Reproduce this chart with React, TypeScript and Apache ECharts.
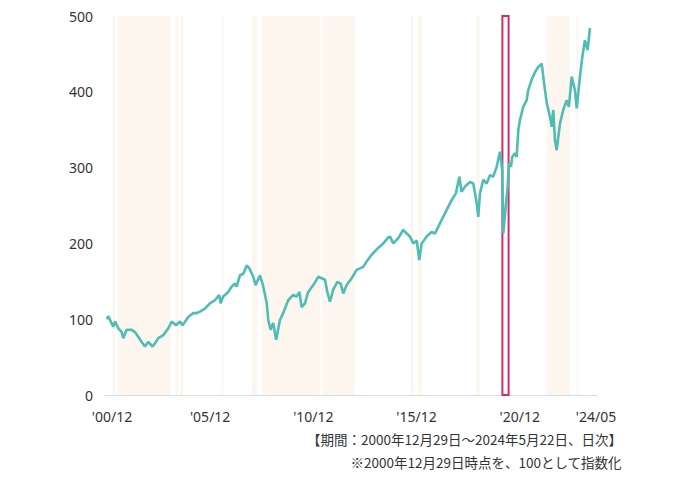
import React, { useEffect, useRef } from "react";
import * as echarts from "echarts";

const dates = [
  "2000-12-29","2001-01-20","2001-04-18","2001-05-20","2001-07-16","2001-09-15","2001-10-12","2001-12-12",
  "2002-03-09","2002-05-06","2002-07-03","2002-09-03","2002-11-01","2002-12-28","2003-03-13","2003-04-24",
  "2003-06-24","2003-09-21","2003-12-18","2004-02-18","2004-05-03","2004-07-12","2004-08-27","2004-12-06",
  "2005-03-03","2005-05-03","2005-07-01","2005-09-27","2005-12-24","2006-03-21","2006-06-06","2006-07-01",
  "2006-08-15","2006-11-15","2007-01-12","2007-03-09","2007-04-09","2007-06-09","2007-08-06","2007-10-06",
  "2007-11-21","2008-01-31","2008-03-10","2008-05-28","2008-07-25","2008-09-25","2008-10-21","2008-12-03",
  "2009-01-18","2009-03-10","2009-05-15","2009-07-12","2009-10-09","2010-01-06","2010-03-06","2010-04-25",
  "2010-06-03","2010-08-01","2010-09-28","2010-12-27","2011-03-24","2011-05-21","2011-07-21","2011-09-01",
  "2011-10-18","2011-12-15","2012-02-24","2012-04-24","2012-06-09","2012-08-09","2012-11-06","2013-02-03",
  "2013-05-28","2013-07-28","2013-10-24","2014-02-18","2014-05-18","2014-08-15","2014-09-15","2014-11-12",
  "2015-02-09","2015-05-06","2015-07-06","2015-09-03","2015-10-31","2015-12-31","2016-02-15","2016-03-27",
  "2016-06-24","2016-09-21","2016-11-18","2017-01-18","2017-03-15","2017-06-12","2017-09-09","2017-11-24",
  "2018-01-24","2018-03-03","2018-05-03","2018-07-31","2018-09-27","2018-11-27","2018-12-24","2019-01-24",
  "2019-03-21","2019-05-21","2019-07-18","2019-09-15","2019-11-15","2020-01-13","2020-02-21","2020-03-10",
  "2020-04-22","2020-05-27","2020-06-19","2020-07-24","2020-08-16","2020-10-03","2020-11-03","2020-12-03",
  "2021-01-01","2021-02-28","2021-04-28","2021-05-25","2021-07-25","2021-09-25","2021-11-21","2022-01-21",
  "2022-02-18","2022-04-18","2022-06-15","2022-07-15","2022-08-12","2022-09-12","2022-10-12","2022-12-09",
  "2023-02-06","2023-04-06","2023-05-15","2023-07-03","2023-09-01","2023-10-01","2023-11-28","2024-01-09",
  "2024-02-24","2024-04-12","2024-05-22",
];

const values = [
  100, 104, 90, 97, 88, 83, 75, 86,
  86, 83, 77, 70, 64, 70, 64, 68,
  75, 79, 88, 97, 92, 97, 92, 103,
  108, 108, 110, 114, 121, 125, 132, 121,
  130, 136, 143, 147, 143, 158, 160, 171,
  167, 156, 145, 158, 143, 121, 99, 86,
  95, 73, 99, 108, 125, 132, 130, 136,
  116, 121, 136, 145, 156, 154, 152, 136,
  123, 139, 149, 147, 134, 145, 154, 165,
  169, 176, 185, 194, 200, 208, 209, 200,
  207, 218, 213, 209, 200, 204, 178, 200,
  209, 215, 213, 222, 231, 244, 257, 266,
  288, 268, 275, 281, 279, 253, 235, 266,
  284, 279, 290, 288, 301, 321, 297, 213,
  248, 275, 306, 301, 314, 319, 314, 350,
  363, 380, 389, 402, 416, 426, 433, 437,
  420, 385, 367, 354, 376, 336, 323, 358,
  376, 389, 380, 420, 402, 378, 420, 446,
  468, 455, 484,
];

const bandStarts = [
  "2001-04-07","2001-07-13","2004-04-22","2004-07-22","2006-07-19","2008-01-07","2008-07-01",
  "2011-06-07","2015-09-22","2016-01-22","2018-11-22","2022-04-19","2023-09-28",
];
const bandEnds = [
  "2001-05-19","2004-01-25","2004-06-07","2004-09-04","2006-08-16","2008-04-13","2011-04-25",
  "2012-12-25","2015-11-04","2016-03-28","2019-01-16","2023-06-04","2023-11-04",
];

const highlightStart = "2020-02-25";
const highlightEnd = "2020-06-13";

const tickDates = ["2000-12-29","2005-12-28","2010-12-28","2015-12-28","2020-12-28","2024-05-22"];
const tickLabels = ["'00/12","'05/12","'10/12","'15/12","'20/12","'24/05"];

const yTicks = [0, 100, 200, 300, 400, 500];

const noteLines = [
  "【期間：2000年12月29日～2024年5月22日、日次】",
  "※2000年12月29日時点を、100として指数化",
];

function toM(d: string): number {
  const [y, mo, da] = d.split("-").map(Number);
  return (y - 2000) * 12 + (mo - 12) + (da - 1) / 30;
}

export default function App() {
  const ref = useRef<HTMLDivElement>(null);

  useEffect(() => {
    document.body.style.margin = "0";
    if (!ref.current) return;
    const chart = echarts.init(ref.current, null, { renderer: "svg" });
    const tickVals = tickDates.map(toM);
    const lineData = dates.map((d, i) => [toM(d), values[i]]);
    const bands = bandStarts.map((s, i) => [
      { xAxis: toM(s), itemStyle: { color: "#fcf6ee" } },
      { xAxis: toM(bandEnds[i]) },
    ]);
    const font = "Noto Sans, sans-serif";

    chart.setOption({
      animation: false,
      backgroundColor: "#ffffff",
      grid: { left: 105, right: 87, top: 16, bottom: 85, containLabel: false },
      xAxis: {
        type: "value",
        min: -0.23,
        max: 285.8,
        axisLine: { show: true, lineStyle: { color: "#dddddd", width: 1 } },
        axisTick: { show: false },
        splitLine: { show: false },
        axisLabel: {
          customValues: tickVals,
          margin: 14,
          fontSize: 14,
          color: "#333333",
          fontFamily: font,
          formatter: (v: number) => {
            const idx = tickVals.findIndex((t) => Math.abs(t - v) < 0.01);
            if (idx < 0) return "";
            if (idx === 0) return "{f|" + tickLabels[idx] + "}";
            if (idx === tickLabels.length - 1) return "{l|" + tickLabels[idx] + "}";
            return tickLabels[idx];
          },
          rich: {
            f: { padding: [0, 0, 0, 10], fontSize: 14, color: "#333333", fontFamily: font },
            l: { padding: [0, 0, 0, 12], fontSize: 14, color: "#333333", fontFamily: font },
          },
        },
      },
      yAxis: {
        type: "value",
        min: yTicks[0],
        max: yTicks[yTicks.length - 1],
        interval: 100,
        axisLine: { show: false },
        axisTick: { show: false },
        splitLine: { show: false },
        axisLabel: { margin: 12, fontSize: 14, color: "#333333", fontFamily: font },
      },
      series: [
        {
          type: "line",
          data: lineData,
          showSymbol: false,
          symbol: "none",
          lineStyle: { color: "#4dbdb6", width: 2.6 },
          z: 3,
          markArea: { silent: true, data: bands, label: { show: false } },
        },
        {
          type: "line",
          data: [],
          z: 5,
          markArea: {
            silent: true,
            label: { show: false },
            data: [
              [
                {
                  xAxis: toM(highlightStart),
                  itemStyle: { color: "rgba(0,0,0,0)", borderColor: "#d42a6c", borderWidth: 2 },
                },
                { xAxis: toM(highlightEnd) },
              ],
            ],
          },
        },
      ],
      graphic: noteLines.map((t, i) => ({
        type: "text",
        right: 62,
        top: 432 + i * 23,
        style: {
          text: t,
          fontSize: 13.5,
          fill: "#333333",
          fontFamily: "Noto Sans CJK JP, sans-serif",
        },
      })),
    });

    return () => chart.dispose();
  }, []);

  return <div ref={ref} style={{ width: 684, height: 480 }} />;
}
